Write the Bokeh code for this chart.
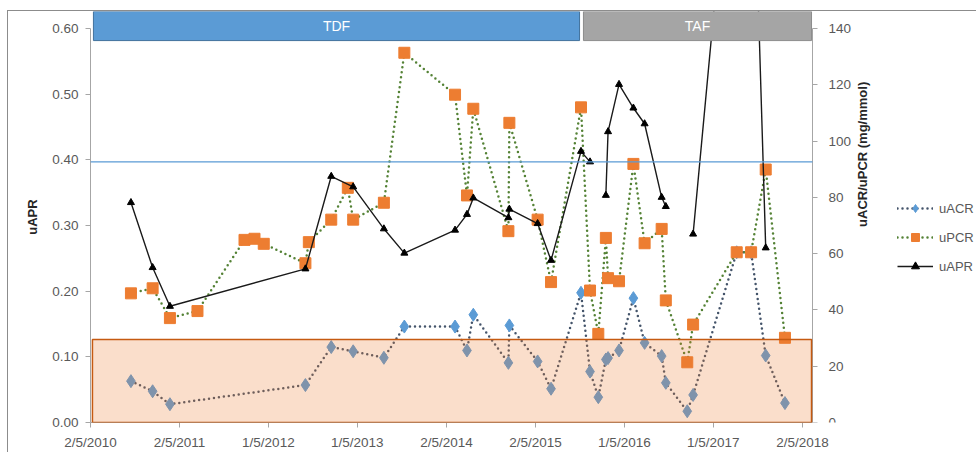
import numpy as np
import pandas as pd
from bokeh.plotting import figure
from bokeh.models import (Range1d, LinearAxis, FixedTicker, NumeralTickFormatter,
                          BoxAnnotation, Label, Legend, LegendItem)
from bokeh.embed import file_html
from bokeh.resources import INLINE

# ---------------- data ----------------
dates = ["2010-10-15", "2011-01-12", "2011-03-24", "2011-07-15", "2012-01-24", "2012-03-05",
         "2012-04-12", "2012-09-30", "2012-10-14", "2013-01-14", "2013-03-23", "2013-04-14",
         "2013-08-18", "2013-11-10", "2014-06-06", "2014-07-25", "2014-08-20", "2015-01-11",
         "2015-01-15", "2015-05-11", "2015-07-05", "2015-11-05", "2015-12-12", "2016-01-15",
         "2016-02-15", "2016-02-24", "2016-04-09", "2016-06-07", "2016-07-23", "2016-10-01",
         "2016-10-18", "2017-01-14", "2017-02-07", "2017-08-05", "2017-10-03", "2017-12-02",
         "2018-02-19"]
# mg/mmol (right axis); None = not measured
uacr = [14.7, 11.1, 6.5, None, None, None, None, 13.3, None, 26.8, None, 25.3,
        23.0, 34.1, 34.1, 25.6, 38.3, 21.2, 34.5, 21.7, 12.0, 46.1, 18.1, 9.0,
        22.4, 22.9, 25.6, 44.2, 28.3, 23.6, 14.1, 4.0, 9.8, 60.5, 60.5, 23.8, 6.9]
upcr = [45.9, 47.7, 37.1, 39.6, 64.9, 65.3, 63.5, 56.6, 64.1, 72.1, 83.4, 72.1,
        78.1, 131.4, 116.5, 80.7, 111.5, 68.0, 106.5, 72.1, 49.9, 112.0, 46.9, 31.5,
        65.6, 51.3, 50.2, 91.9, 63.7, 68.8, 43.4, 21.4, 34.8, 60.5, 60.5, 89.9, 30.1]
# ratio (left axis); None = not available
uapr = [0.335, 0.236, 0.177, None, None, None, None, 0.234, None, 0.375, None, 0.359,
        0.295, 0.258, 0.293, 0.317, 0.342, 0.312, 0.325, 0.303, 0.247, 0.413, 0.397, None,
        0.346, 0.443, 0.515, 0.479, 0.455, 0.343, 0.329, None, 0.287, 1.0, 1.0, 0.266, None]

tick_dates = ["2010-05-02", "2011-05-02", "2012-05-01", "2013-05-01", "2014-05-02",
              "2015-05-02", "2016-05-01", "2017-05-01", "2018-05-02"]
tick_labels = ["2/5/2010", "2/5/2011", "1/5/2012", "1/5/2013", "2/5/2014",
               "2/5/2015", "1/5/2016", "1/5/2017", "2/5/2018"]

periods = ["TDF", "TAF"]
period_start = ["2010-05-14", "2015-11-15"]
period_end = ["2015-10-30", "2018-06-08"]
period_colors = ["#5B9BD5", "#A5A5A5"]
period_lines = ["#41719C", "#8C8C8C"]

band_start, band_end = "2010-05-10", "2018-06-08"
uacr_band_top = 29.5      # mg/mmol
uapr_cutoff = 0.397

left_ticks = [0.0, 0.1, 0.2, 0.3, 0.4, 0.5, 0.6]
right_ticks = [0, 20, 40, 60, 80, 100, 120, 140]
right_title = "uACR/uPCR (mg/mmol)"

# ---------------- helpers ----------------
base = pd.Timestamp("2010-05-02")
def to_days(seq):
    return [int((pd.Timestamp(d) - base).days) for d in seq]

x_all = to_days(dates)
acr_x = [x for x, v in zip(x_all, uacr) if v is not None]
acr_y = [v for v in uacr if v is not None]
pcr_x = [x for x, v in zip(x_all, upcr) if v is not None]
pcr_y = [v for v in upcr if v is not None]
apr_x = [x for x, a in zip(x_all, uacr) if a is not None]
apr_y = [np.nan if r is None else r for a, r in zip(uacr, uapr) if a is not None]

tick_x = to_days(tick_dates)
X_END = 2963          # right edge of the plotting area (right axis position)
PX_PER_DAY = 722 / X_END
FRAME_W = 886         # frame also holds the legend area to the right of the right axis
X_MAX = FRAME_W / PX_PER_DAY
Y_END = 0.626
SCALE = 140 / 0.6

FONT = "Liberation Sans"
TXT = "#595959"
AX = "#A6A6A6"

p = figure(frame_width=FRAME_W, frame_height=411, output_backend="svg", toolbar_location=None,
           x_range=Range1d(0, X_MAX), y_range=Range1d(0, Y_END),
           min_border_left=82, min_border_right=0, min_border_top=0, min_border_bottom=24,
           background_fill_color="white", border_fill_color="white")
p.outline_line_color = None
p.xgrid.visible = False
p.ygrid.visible = False
p.extra_y_ranges = {"r": Range1d(0, Y_END * SCALE)}
p.styles = {"border-top": "1px solid #8c8c8c", "border-left": "1px solid #8c8c8c",
            "margin-left": "7px", "margin-top": "10px"}

# x axis
xa = p.xaxis[0]
xa.ticker = FixedTicker(ticks=tick_x)
xa.major_label_overrides = {int(t): l for t, l in zip(tick_x, tick_labels)}
xa.bounds = (0, X_END)
xa.minor_tick_line_color = None
xa.major_tick_out = 5
xa.major_tick_in = 0
xa.major_label_standoff = 7
# left axis
ya = p.yaxis[0]
ya.ticker = FixedTicker(ticks=left_ticks)
ya.formatter = NumeralTickFormatter(format="0.00")
ya.bounds = (0, 0.6)
ya.minor_tick_line_color = None
ya.major_tick_out = 5
ya.major_tick_in = 0
ya.major_label_standoff = 7
ya.axis_label = "uAPR"
ya.axis_label_standoff = 9
# right axis, pinned at the right edge of the plotting area
ra = LinearAxis(y_range_name="r", ticker=FixedTicker(ticks=right_ticks), bounds=(0, 140),
                fixed_location=X_END)
ra.minor_tick_line_color = None
ra.major_tick_out = 5
ra.major_tick_in = 0
ra.major_label_standoff = 11
p.add_layout(ra, "right")

for ax in [xa, ya, ra]:
    ax.axis_line_color = AX
    ax.major_tick_line_color = AX
    ax.major_label_text_font = FONT
    ax.major_label_text_font_size = "13.5px"
    ax.major_label_text_color = TXT
    ax.axis_label_text_font = FONT
    ax.axis_label_text_font_size = "13px"
    ax.axis_label_text_font_style = "bold"
    ax.axis_label_text_color = "#262626"

# right axis title, reading bottom-to-top (a tick-free axis carrying one rotated label)
title_pos = 69.5
rt = LinearAxis(y_range_name="r", ticker=FixedTicker(ticks=[title_pos]), fixed_location=X_END,
                major_label_overrides={title_pos: right_title},
                major_label_orientation=np.pi / 2, major_label_standoff=50,
                major_tick_out=0, major_tick_in=0,
                axis_line_color=None, major_tick_line_color=None, minor_tick_line_color=None,
                major_label_text_font=FONT, major_label_text_font_size="13px",
                major_label_text_font_style="bold", major_label_text_color="#262626")
p.add_layout(rt, "right")

# series
acr_line = p.line(acr_x, acr_y, y_range_name="r", line_color="#44546A", line_width=2.5,
                  line_dash="0 5", line_cap="round")
acr_pts = p.scatter(acr_x, acr_y, y_range_name="r", marker="diamond",
                    size=13, fill_color="#5B9BD5", line_color="#5B9BD5")
pcr_line = p.line(pcr_x, pcr_y, y_range_name="r", line_color="#548235", line_width=2.5,
                  line_dash="0 5", line_cap="round")
pcr_pts = p.scatter(pcr_x, pcr_y, y_range_name="r", marker="square", size=11,
                    fill_color="#ED7D31", line_color="#ED7D31")
apr_line = p.line(apr_x, apr_y, line_color="#1a1a1a", line_width=1.4)
apr_pts = p.scatter(apr_x, apr_y, marker="triangle", size=7, fill_color="black", line_color="black")

# shaded normal band for uACR, cutoff line for uAPR
d_band = to_days([band_start, band_end])
p.add_layout(BoxAnnotation(left=d_band[0], right=d_band[1], bottom=0, top=uacr_band_top,
                           y_range_name="r", fill_color="#ED7D31", fill_alpha=0.25,
                           line_color="#C55A11", line_width=1.5, line_alpha=1.0))
p.add_layout(BoxAnnotation(left=0, right=X_END, bottom=uapr_cutoff, top=uapr_cutoff,
                           fill_alpha=0, line_color="#5B9BD5", line_width=1.2, line_alpha=1.0))

# treatment period bars
ps = to_days(period_start)
pe = to_days(period_end)
bar_bottom = 0.5817
for name, s, e, fc, lc in zip(periods, ps, pe, period_colors, period_lines):
    p.add_layout(BoxAnnotation(left=s, right=e, bottom=bar_bottom, top=Y_END,
                               fill_color=fc, fill_alpha=1.0, line_color=lc, line_width=1,
                               line_alpha=1.0))
    p.add_layout(Label(x=(s + e) / 2, y=(bar_bottom + Y_END) / 2, text=name,
                       text_align="center", text_baseline="middle", text_color="white",
                       text_font=FONT, text_font_size="14px"))

legend = Legend(items=[LegendItem(label="uACR", renderers=[acr_line, acr_pts]),
                       LegendItem(label="uPCR", renderers=[pcr_line, pcr_pts]),
                       LegendItem(label="uAPR", renderers=[apr_line, apr_pts])],
                location=(807, 146), glyph_width=36, glyph_height=20, spacing=9,
                label_standoff=6,
                label_text_font=FONT, label_text_font_size="13px", label_text_color=TXT,
                border_line_color=None, background_fill_alpha=0, margin=0, padding=10)
p.add_layout(legend, "center")

open("out.html", "w").write(file_html(p, INLINE))
